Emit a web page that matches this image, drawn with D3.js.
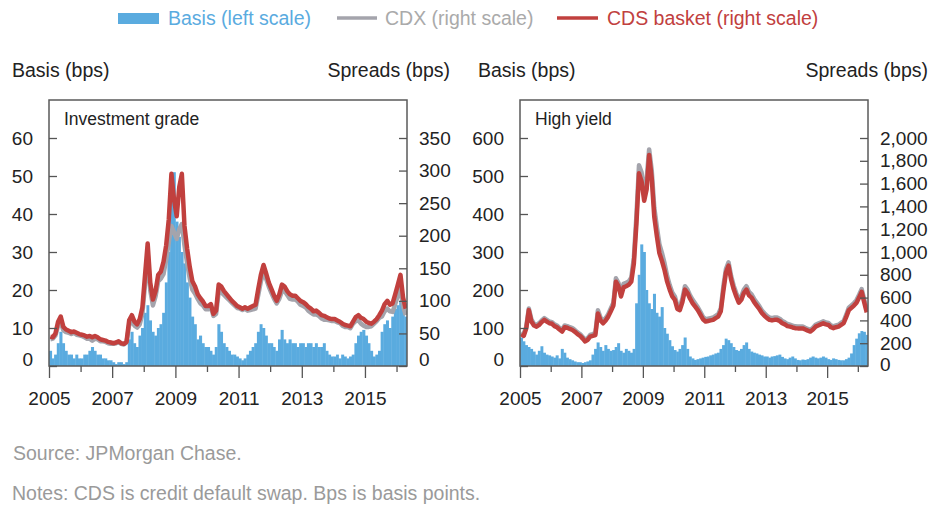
<!DOCTYPE html>
<html><head><meta charset="utf-8">
<script src="https://cdn.jsdelivr.net/npm/d3@7"></script>
<style>
body{margin:0;background:#fff;}
svg{display:block;font-family:"Liberation Sans",Arial,Helvetica,sans-serif;}
</style></head><body>
<svg id="c" width="932" height="506"></svg>
<script>
// ---------- data ----------
const startMonth = [2005, 0];   // Jan 2005
const endMonth = [2016, 4];     // through Apr 2016 (exclusive May)
const yearTicks = [2005,2006,2007,2008,2009,2010,2011,2012,2013,2014,2015,2016];
const yearLabels = [2005,2007,2009,2011,2013,2015];
const igLeftTicks = [0,10,20,30,40,50,60];
const igRightTicks = [0,50,100,150,200,250,300,350];
const hyLeftTicks = [0,100,200,300,400,500,600];
const hyRightTicks = [0,200,400,600,800,1000,1200,1400,1600,1800,2000];

// Investment grade (monthly, Jan 2005 - Apr 2016)
const igBasis = [
 4,2,3,6,9,6,4,3,3,2,3,2,
 2,3,3,4,5,4,3,3,2,2,1.5,1.5,
 1,0.5,1,1,0.5,1,7,9,6,5,8,10,
 14,16,12,9,8,10,11,14,22,30,45,51,
 38,34,30,27,22,18,13,11,7,8,6,5,
 5,4,3,5,11,9,6,5,4,3,3,2.5,
 2,1.5,2,3,4,5,6,9,11,10,8,6,
 6,5,4,7,9.5,7,6,7,6,6,5,6,
 6,5,6,6,5,6,5,5,6,4,3,2.5,
 2.5,3,2,3,2.5,2,2.5,3,6,8,9,9.5,
 8,6,4,2.5,3,4,9,11,12,10,13,15,
 16,17,15,13];
const igCdx = [
 41,42,47,62,67,55,52,51,49,51,48,47,
 46,44,42,42,39,42,41,38,38,37,35,34,
 34,35,37,34,33,36,63,69,62,59,64,80,
 126,172,116,93,107,130,134,141,163,190,215,205,
 195,210,218,185,158,134,117,111,103,96,93,87,
 87,91,77,80,114,113,109,105,101,97,93,89,
 88,86,88,85,86,87,88,109,130,145,134,122,
 112,103,96,103,115,115,109,103,102,102,99,94,
 92,90,85,82,79,79,77,73,71,71,70,69,
 69,67,66,62,60,60,58,65,69,70,65,62,
 60,60,61,65,69,74,76,84,88,84,83,95,
 108,118,92,78];
const igCds = [
 45,44,50,68,76,60,56,54,52,53,51,49,
 48,47,45,46,44,46,44,41,40,39,37,36,
 35,36,38,35,34,37,70,78,68,64,72,90,
 140,188,128,102,115,140,145,160,185,225,295,255,
 230,275,295,215,180,152,130,122,110,104,99,92,
 92,95,80,85,125,122,115,110,105,100,96,92,
 90,88,90,88,90,92,94,118,140,155,142,128,
 118,108,100,110,125,122,115,110,108,108,104,100,
 98,95,91,88,84,85,82,78,77,75,73,72,
 72,70,68,65,63,62,61,68,75,78,74,72,
 68,66,65,68,72,78,85,95,100,94,96,110,
 125,140,105,88];

// High yield (monthly, Jan 2005 - Apr 2016)
const hyBasis = [
 75,65,55,50,45,38,30,40,52,35,30,28,
 25,22,28,20,45,35,22,18,15,12,10,10,
 8,10,12,15,30,45,62,50,40,55,45,40,
 42,50,60,40,35,45,40,35,45,165,240,320,
 300,200,165,150,190,140,130,155,100,85,68,52,
 42,38,45,55,75,45,25,20,16,18,20,22,
 24,25,28,30,33,35,45,55,72,68,60,50,
 42,40,45,55,62,45,38,35,33,30,28,25,
 25,22,25,26,28,30,24,20,18,22,25,20,
 16,15,17,16,18,22,25,22,20,22,25,22,
 18,16,20,18,16,15,15,18,22,33,55,72,
 86,92,90,82];
const hyCdx = [
 295,280,345,505,410,370,360,375,400,420,405,390,
 385,365,355,335,318,355,350,340,332,315,295,280,
 255,230,245,272,280,290,490,425,395,420,455,505,
 555,770,730,640,720,730,742,775,950,1320,1760,1700,
 1520,1640,1900,1720,1390,1220,1070,990,900,790,710,645,
 610,530,520,590,700,670,620,580,548,515,475,432,
 410,415,420,425,440,455,505,700,850,910,790,705,
 640,585,610,670,700,650,628,588,556,525,488,462,
 440,425,420,425,425,415,395,383,368,362,355,348,
 346,346,346,335,325,317,336,362,372,382,392,382,
 377,357,348,356,362,378,393,450,512,532,552,578,
 625,675,585,492];
const hyCds = [
 280,265,330,490,390,355,345,360,385,405,390,375,
 370,350,340,320,302,340,335,325,316,300,280,265,
 240,215,230,258,265,272,460,400,375,400,433,480,
 530,740,700,610,690,700,712,740,900,1250,1690,1620,
 1450,1550,1850,1650,1310,1140,990,920,840,740,670,610,
 580,500,490,560,670,640,590,550,520,490,450,410,
 390,395,400,405,420,433,480,660,820,880,760,675,
 610,555,580,640,670,620,600,560,530,500,465,440,
 420,405,400,405,405,395,375,365,350,345,338,332,
 330,330,330,320,310,302,320,345,355,365,375,365,
 360,340,332,340,345,360,375,430,490,510,530,555,
 600,650,560,470];

// ---------- styling ----------
const BLUE = "#5aabdf", GRAY = "#a4a4ac", RED = "#c1403e";
const TXT = "#222", AX = "#555";
const FS = 19;

const svg = d3.select("#c");
const months = d3.utcMonth.range(new Date(Date.UTC(startMonth[0], startMonth[1], 1)),
                                 new Date(Date.UTC(endMonth[0], endMonth[1], 1)));

// ---------- legend ----------
const lg = svg.append("g").attr("font-size", 19.5);
lg.append("rect").attr("x",118).attr("y",13).attr("width",41).attr("height",11).attr("fill",BLUE);
lg.append("text").attr("x",168).attr("y",18).attr("dy","0.35em").attr("fill",BLUE).text("Basis (left scale)");
lg.append("line").attr("x1",337).attr("x2",377).attr("y1",18).attr("y2",18).attr("stroke",GRAY).attr("stroke-width",3.5);
lg.append("text").attr("x",385).attr("y",18).attr("dy","0.35em").attr("fill","#aaaaaa").text("CDX (right scale)");
lg.append("line").attr("x1",557).attr("x2",598).attr("y1",18).attr("y2",18).attr("stroke",RED).attr("stroke-width",3.5);
lg.append("text").attr("x",607).attr("y",18).attr("dy","0.35em").attr("fill",RED).text("CDS basket (right scale)");

// ---------- panels ----------
function drawPanel(cfg, idx){
  const {x0, x1, y0, y1} = cfg;
  const g = svg.append("g");
  const x = d3.scaleUtc()
    .domain([months[0], new Date(Date.UTC(endMonth[0], endMonth[1], 1))])
    .range([x0, x1]);
  const leftMax = cfg.leftTicks[cfg.leftTicks.length-1] * (y1 - y0) / (y1 - cfg.topTickY);
  const yL = d3.scaleLinear().domain([0, leftMax]).range([y1, y0]);
  const rightMax = cfg.rightTicks[cfg.rightTicks.length-1] * leftMax / cfg.leftTicks[cfg.leftTicks.length-1];
  const yR = d3.scaleLinear().domain([0, rightMax]).range([y1, y0]);

  const clipId = "clip" + idx;
  g.append("clipPath").attr("id", clipId).append("rect")
    .attr("x", x0).attr("y", y0).attr("width", x1-x0).attr("height", y1-y0);
  const plot = g.append("g").attr("clip-path", `url(#${clipId})`);

  // basis bars
  plot.selectAll("rect.bar").data(months).join("rect")
    .attr("class","bar")
    .attr("x", d => x(d))
    .attr("width", d => x(d3.utcMonth.offset(d,1)) - x(d) + 0.4)
    .attr("y", (d,i) => yL(cfg.basis[i]))
    .attr("height", (d,i) => y1 - yL(cfg.basis[i]))
    .attr("fill", BLUE);

  const mid = d => new Date((+d + +d3.utcMonth.offset(d,1)) / 2);
  const line = arr => d3.line()
    .x(d => x(mid(d)))
    .y((d,i) => yR(arr[i]))
    .curve(d3.curveLinear)(months);

  plot.append("path").attr("d", line(cfg.cdx)).attr("fill","none")
    .attr("stroke", GRAY).attr("stroke-width", 4.5).attr("stroke-linejoin","round");
  plot.append("path").attr("d", line(cfg.cds)).attr("fill","none")
    .attr("stroke", RED).attr("stroke-width", 4.5).attr("stroke-linejoin","round");

  // frame
  g.append("rect").attr("x", x0).attr("y", y0).attr("width", x1-x0).attr("height", y1-y0)
    .attr("fill","none").attr("stroke","#5a5a5a").attr("stroke-width",1.5);

  // left axis
  const la = g.append("g").attr("transform", `translate(${x0},0)`)
    .call(d3.axisLeft(yL).tickValues(cfg.leftTicks).tickSizeInner(-8).tickSizeOuter(0).tickPadding(16));
  // right axis
  const ra = g.append("g").attr("transform", `translate(${x1},0)`)
    .call(d3.axisRight(yR).tickValues(cfg.rightTicks).tickSizeInner(-8).tickSizeOuter(0).tickPadding(12)
      .tickFormat(d3.format(",")));
  [[la, 7], [ra, cfg.rightZeroShift]].forEach(([a, sh]) => {
    a.select(".domain").remove();
    a.attr("font-family", null);
    a.selectAll(".tick line").attr("stroke", AX).attr("stroke-width", 1.3);
    a.selectAll(".tick text").attr("font-size", FS).attr("fill", TXT);
    a.selectAll(".tick").filter(d => d === 0).select("text").attr("transform",`translate(0,${-sh})`);
  });

  // bottom axis
  const ba = g.append("g").attr("transform", `translate(0,${y1})`)
    .call(d3.axisBottom(x)
      .tickValues(yearTicks.map(yv => new Date(Date.UTC(yv,0,1))))
      .tickSize(6).tickPadding(20)
      .tickFormat(d => yearLabels.includes(d.getUTCFullYear()) ? String(d.getUTCFullYear()) : ""));
  ba.attr("font-family", null);
  ba.select(".domain").remove();
  ba.selectAll(".tick line").attr("stroke", AX).attr("stroke-width", 1.3)
    .attr("y2", d => yearLabels.includes(d.getUTCFullYear()) ? 12 : 6);
  ba.selectAll(".tick text").attr("font-size", FS).attr("fill", TXT);

  // titles
  g.append("text").attr("x", cfg.basisTitleX).attr("y", 70).attr("dy","0.35em")
    .attr("font-size", 19.5).attr("fill", TXT).text("Basis (bps)");
  g.append("text").attr("x", cfg.spreadTitleX).attr("y", 70).attr("dy","0.35em")
    .attr("text-anchor","end").attr("font-size", 19.5).attr("fill", TXT).text("Spreads (bps)");
  g.append("text").attr("x", x0 + 15).attr("y", 119).attr("dy","0.35em")
    .attr("font-size", 17.5).attr("fill", TXT).text(cfg.title);
}

drawPanel({x0:49, x1:407, y0:100, y1:366, topTickY:138,
  leftTicks: igLeftTicks, rightTicks: igRightTicks, rightZeroShift: 7,
  basis: igBasis, cdx: igCdx, cds: igCds,
  title: "Investment grade", basisTitleX: 12, spreadTitleX: 450}, 0);
drawPanel({x0:520, x1:868, y0:100, y1:366, topTickY:138,
  leftTicks: hyLeftTicks, rightTicks: hyRightTicks, rightZeroShift: 2,
  basis: hyBasis, cdx: hyCdx, cds: hyCds,
  title: "High yield", basisTitleX: 478, spreadTitleX: 928}, 1);

// ---------- notes ----------
svg.append("text").attr("x",13).attr("y",453).attr("dy","0.35em").attr("font-size",19.5)
  .attr("fill","#9a9a9a").text("Source: JPMorgan Chase.");
svg.append("text").attr("x",12).attr("y",493).attr("dy","0.35em").attr("font-size",19.5)
  .attr("fill","#9a9a9a").text("Notes: CDS is credit default swap. Bps is basis points.");
</script>
</body></html>
